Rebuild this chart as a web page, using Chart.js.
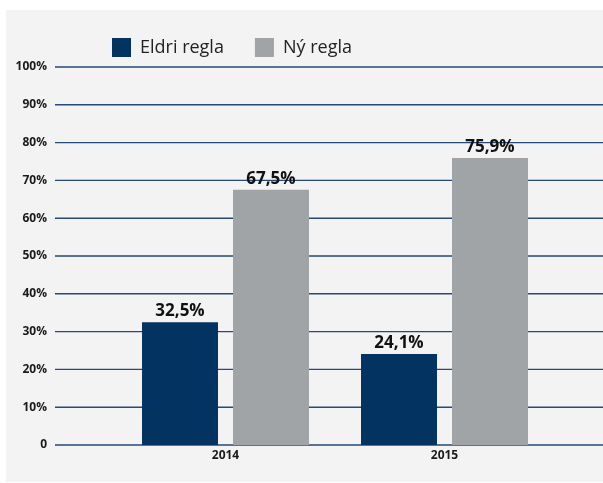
<!DOCTYPE html>
<html>
<head>
<meta charset="utf-8">
<script src="https://cdn.jsdelivr.net/npm/chart.js@4.4.0/dist/chart.umd.min.js"></script>
<style>
  html, body { margin: 0; padding: 0; background: #ffffff; }
  #wrap { width: 603px; height: 483px; position: relative; }
</style>
</head>
<body>
<div id="wrap"><canvas id="c" width="603" height="483"></canvas></div>
<script>
const categories = ['2014', '2015'];
const seriesNames = ['Eldri regla', 'Ný regla'];
const oldRule = [32.5, 24.1];
const newRule = [67.5, 75.9];
const yTicks = [0, 10, 20, 30, 40, 50, 60, 70, 80, 90, 100];

const FONT = "'Open Sans', 'DejaVu Sans', sans-serif";
const LEGEND_PAD = 31;

const panelPlugin = {
  id: 'panel',
  beforeDraw(chart) {
    const ctx = chart.ctx;
    ctx.save();
    ctx.fillStyle = '#f3f3f3';
    ctx.fillRect(6, 10, chart.width - 6, chart.height - 11);
    ctx.restore();
    const lg = chart.legend;
    if (lg) {
      const w = lg.width;
      lg.left = 112 - LEGEND_PAD;
      lg.right = lg.left + w;
    }
  },
  beforeDatasetsDraw(chart) {
    const ctx = chart.ctx;
    const y = chart.scales.y;
    ctx.save();
    ctx.strokeStyle = '#24497a';
    ctx.lineWidth = 1.4;
    y.ticks.forEach(t => {
      const py = y.getPixelForValue(t.value);
      ctx.beginPath();
      ctx.moveTo(55, py);
      ctx.lineTo(chart.width, py);
      ctx.stroke();
    });
    ctx.restore();
  },
  afterDatasetsDraw(chart) {
    const ctx = chart.ctx;
    ctx.save();
    ctx.font = "bold 17px " + FONT;
    ctx.fillStyle = '#111111';
    ctx.textAlign = 'center';
    ctx.textBaseline = 'bottom';
    chart.data.datasets.forEach((ds, di) => {
      chart.getDatasetMeta(di).data.forEach((bar, i) => {
        const label = ds.data[i].toFixed(1).replace('.', ',') + '%';
        ctx.fillText(label, bar.x, bar.y - 2);
      });
    });
    ctx.restore();
  }
};

new Chart(document.getElementById('c'), {
  type: 'bar',
  data: {
    labels: categories,
    datasets: [
      { label: seriesNames[0], data: oldRule, backgroundColor: '#033461', borderWidth: 0 },
      { label: seriesNames[1], data: newRule, backgroundColor: '#a1a4a7', borderWidth: 0 }
    ]
  },
  options: {
    responsive: false,
    animation: false,
    devicePixelRatio: 1,
    categoryPercentage: 0.831,
    barPercentage: 0.835,
    layout: { padding: { top: 5, right: 49, bottom: 0, left: 0 } },
    plugins: {
      tooltip: { enabled: false },
      legend: {
        display: true,
        position: 'top',
        align: 'start',
        labels: {
          boxWidth: 19,
          boxHeight: 19,
          padding: LEGEND_PAD,
          color: '#222222',
          font: { family: FONT, size: 18, weight: '400' }
        }
      }
    },
    scales: {
      x: {
        grid: { display: false, drawTicks: false },
        border: { display: false },
        ticks: {
          color: '#1a1a1a',
          padding: 3,
          font: { family: FONT, size: 12, weight: 'bold' }
        },
        afterFit(scale) { scale.height = 38; }
      },
      y: {
        min: 0,
        max: 100,
        afterBuildTicks(scale) { scale.ticks = yTicks.map(v => ({ value: v })); },
        grid: { display: false, drawTicks: false },
        border: { display: false },
        ticks: {
          color: '#1a1a1a',
          padding: 69,
          font: { family: FONT, size: 12, weight: 'bold' },
          callback: v => v === 0 ? '0' : v + '%'
        },
        afterFit(scale) {
          scale.width = 116;
          scale.paddingTop = 67;
          scale.paddingBottom = 38;
        }
      }
    }
  },
  plugins: [panelPlugin]
});
</script>
</body>
</html>
